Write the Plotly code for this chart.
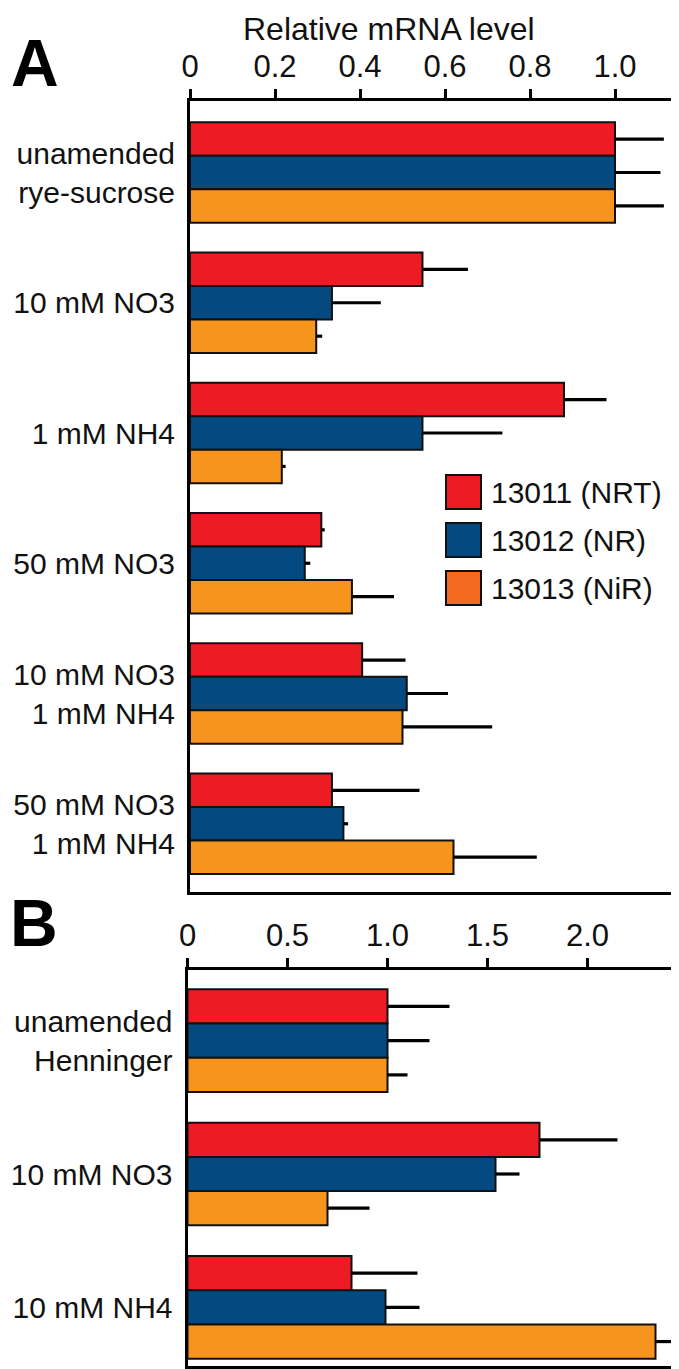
import plotly.graph_objects as go

W, H = 679, 1369

# ---------------- data ----------------
series_names = ["13011 (NRT)", "13012 (NR)", "13013 (NiR)"]

cats_a = ["unamended<br>rye-sucrose", "10 mM NO3", "1 mM NH4", "50 mM NO3",
          "10 mM NO3<br>1 mM NH4", "50 mM NO3<br>1 mM NH4"]
a_nrt = [1.00, 0.547, 0.880, 0.309, 0.405, 0.334]
a_nr = [1.00, 0.334, 0.547, 0.270, 0.510, 0.361]
a_nir = [1.00, 0.297, 0.216, 0.381, 0.500, 0.620]
a_nrt_err = [0.115, 0.107, 0.100, 0.008, 0.102, 0.206]
a_nr_err = [0.107, 0.115, 0.188, 0.013, 0.097, 0.011]
a_nir_err = [0.115, 0.014, 0.009, 0.099, 0.211, 0.196]

cats_b = ["unamended<br>Henninger", "10 mM NO3", "10 mM NH4"]
b_nrt = [1.00, 1.76, 0.82]
b_nr = [1.00, 1.54, 0.99]
b_nir = [1.00, 0.70, 2.34]
b_nrt_err = [0.31, 0.39, 0.33]
b_nr_err = [0.21, 0.12, 0.17]
b_nir_err = [0.10, 0.21, 0.09]

ticks_a = [0, 0.2, 0.4, 0.6, 0.8, 1.0]
ticklabels_a = ["0", "0.2", "0.4", "0.6", "0.8", "1.0"]
ticks_b = [0, 0.5, 1.0, 1.5, 2.0]
ticklabels_b = ["0", "0.5", "1.0", "1.5", "2.0"]

bar_colors = ["#ED1C24", "#044A80", "#F7941E"]
legend_colors = ["#ED1C24", "#044A80", "#F26B21"]

FONT = "Liberation Sans, Arial, Helvetica, sans-serif"


def px_x(p):
    return p / W


def px_y(p):
    return 1 - p / H


fig = go.Figure()

panels = [
    ("x", "y", cats_a, [a_nrt, a_nr, a_nir], [a_nrt_err, a_nr_err, a_nir_err]),
    ("x2", "y2", cats_b, [b_nrt, b_nr, b_nir], [b_nrt_err, b_nr_err, b_nir_err]),
]
for xa, ya, cats, vals, errs in panels:
    for i in range(3):
        fig.add_trace(go.Bar(
            y=cats, x=vals[i], orientation="h", name=series_names[i],
            marker=dict(color=bar_colors[i], line=dict(color="#111111", width=2)),
            error_x=dict(type="data", symmetric=False, array=errs[i],
                         arrayminus=[0] * len(cats), width=0, thickness=3.2,
                         color="#000000"),
            xaxis=xa, yaxis=ya, showlegend=False,
        ))

axis_common = dict(showline=True, linecolor="#000000", linewidth=3, mirror=True,
                   showgrid=False, zeroline=False, automargin=False)

fig.update_layout(
    width=W, height=H, margin=dict(l=0, r=0, t=0, b=0, autoexpand=False),
    paper_bgcolor="white", plot_bgcolor="white",
    barmode="group", bargap=0.23, bargroupgap=0,
    font=dict(family=FONT, color="#111111"),
    xaxis=dict(domain=[px_x(182), px_x(674)], range=[0, (674 - 182) / 425],
               side="top", anchor="y", tickmode="array", tickvals=ticks_a,
               ticktext=ticklabels_a, ticks="outside", ticklen=9, tickwidth=2.5,
               tickcolor="#000000", tickfont=dict(size=31, color="#111111"),
               **axis_common),
    yaxis=dict(domain=[px_y(884), px_y(93)], anchor="x", type="category",
               categoryorder="array", categoryarray=cats_a,
               range=[5.524, -0.549], ticks="", ticklabelstandoff=6,
               tickfont=dict(size=30, color="#111111"), **axis_common),
    xaxis2=dict(domain=[px_x(179.5), px_x(669)], range=[0, (669 - 179.5) / 200],
                side="top", anchor="y2", tickmode="array", tickvals=ticks_b,
                ticktext=ticklabels_b, ticks="outside", ticklen=9, tickwidth=2.5,
                tickcolor="#000000", tickfont=dict(size=31, color="#111111"),
                **axis_common),
    yaxis2=dict(domain=[px_y(1358), px_y(962)], anchor="x2", type="category",
                categoryorder="array", categoryarray=cats_b,
                range=[2.44, -0.53], ticks="", ticklabelstandoff=6,
                tickfont=dict(size=30, color="#111111"), **axis_common),
)

annotations = [
    dict(text="Relative mRNA level", x=px_x(381), y=px_y(1), xref="paper",
         yref="paper", showarrow=False, font=dict(size=32, color="#111111"),
         xanchor="center", yanchor="top"),
    dict(text="<b>A</b>", x=px_x(27), y=px_y(55), xref="paper", yref="paper",
         showarrow=False, font=dict(size=66, color="#000000"),
         xanchor="center", yanchor="middle"),
    dict(text="<b>B</b>", x=px_x(26), y=px_y(915), xref="paper", yref="paper",
         showarrow=False, font=dict(size=66, color="#000000"),
         xanchor="center", yanchor="middle"),
]

shapes = []
legend_tops = [467, 515, 563]
for i in range(3):
    t = legend_tops[i]
    shapes.append(dict(type="rect", xref="paper", yref="paper",
                       x0=px_x(438), x1=px_x(473), y0=px_y(t + 34), y1=px_y(t),
                       fillcolor=legend_colors[i],
                       line=dict(color="#111111", width=2)))
    annotations.append(dict(text=series_names[i], x=px_x(481), y=px_y(t + 17),
                            xref="paper", yref="paper", showarrow=False,
                            font=dict(size=30, color="#111111"),
                            xanchor="left", yanchor="middle"))

fig.update_layout(annotations=annotations, shapes=shapes)

fig.write_html("out.html")
